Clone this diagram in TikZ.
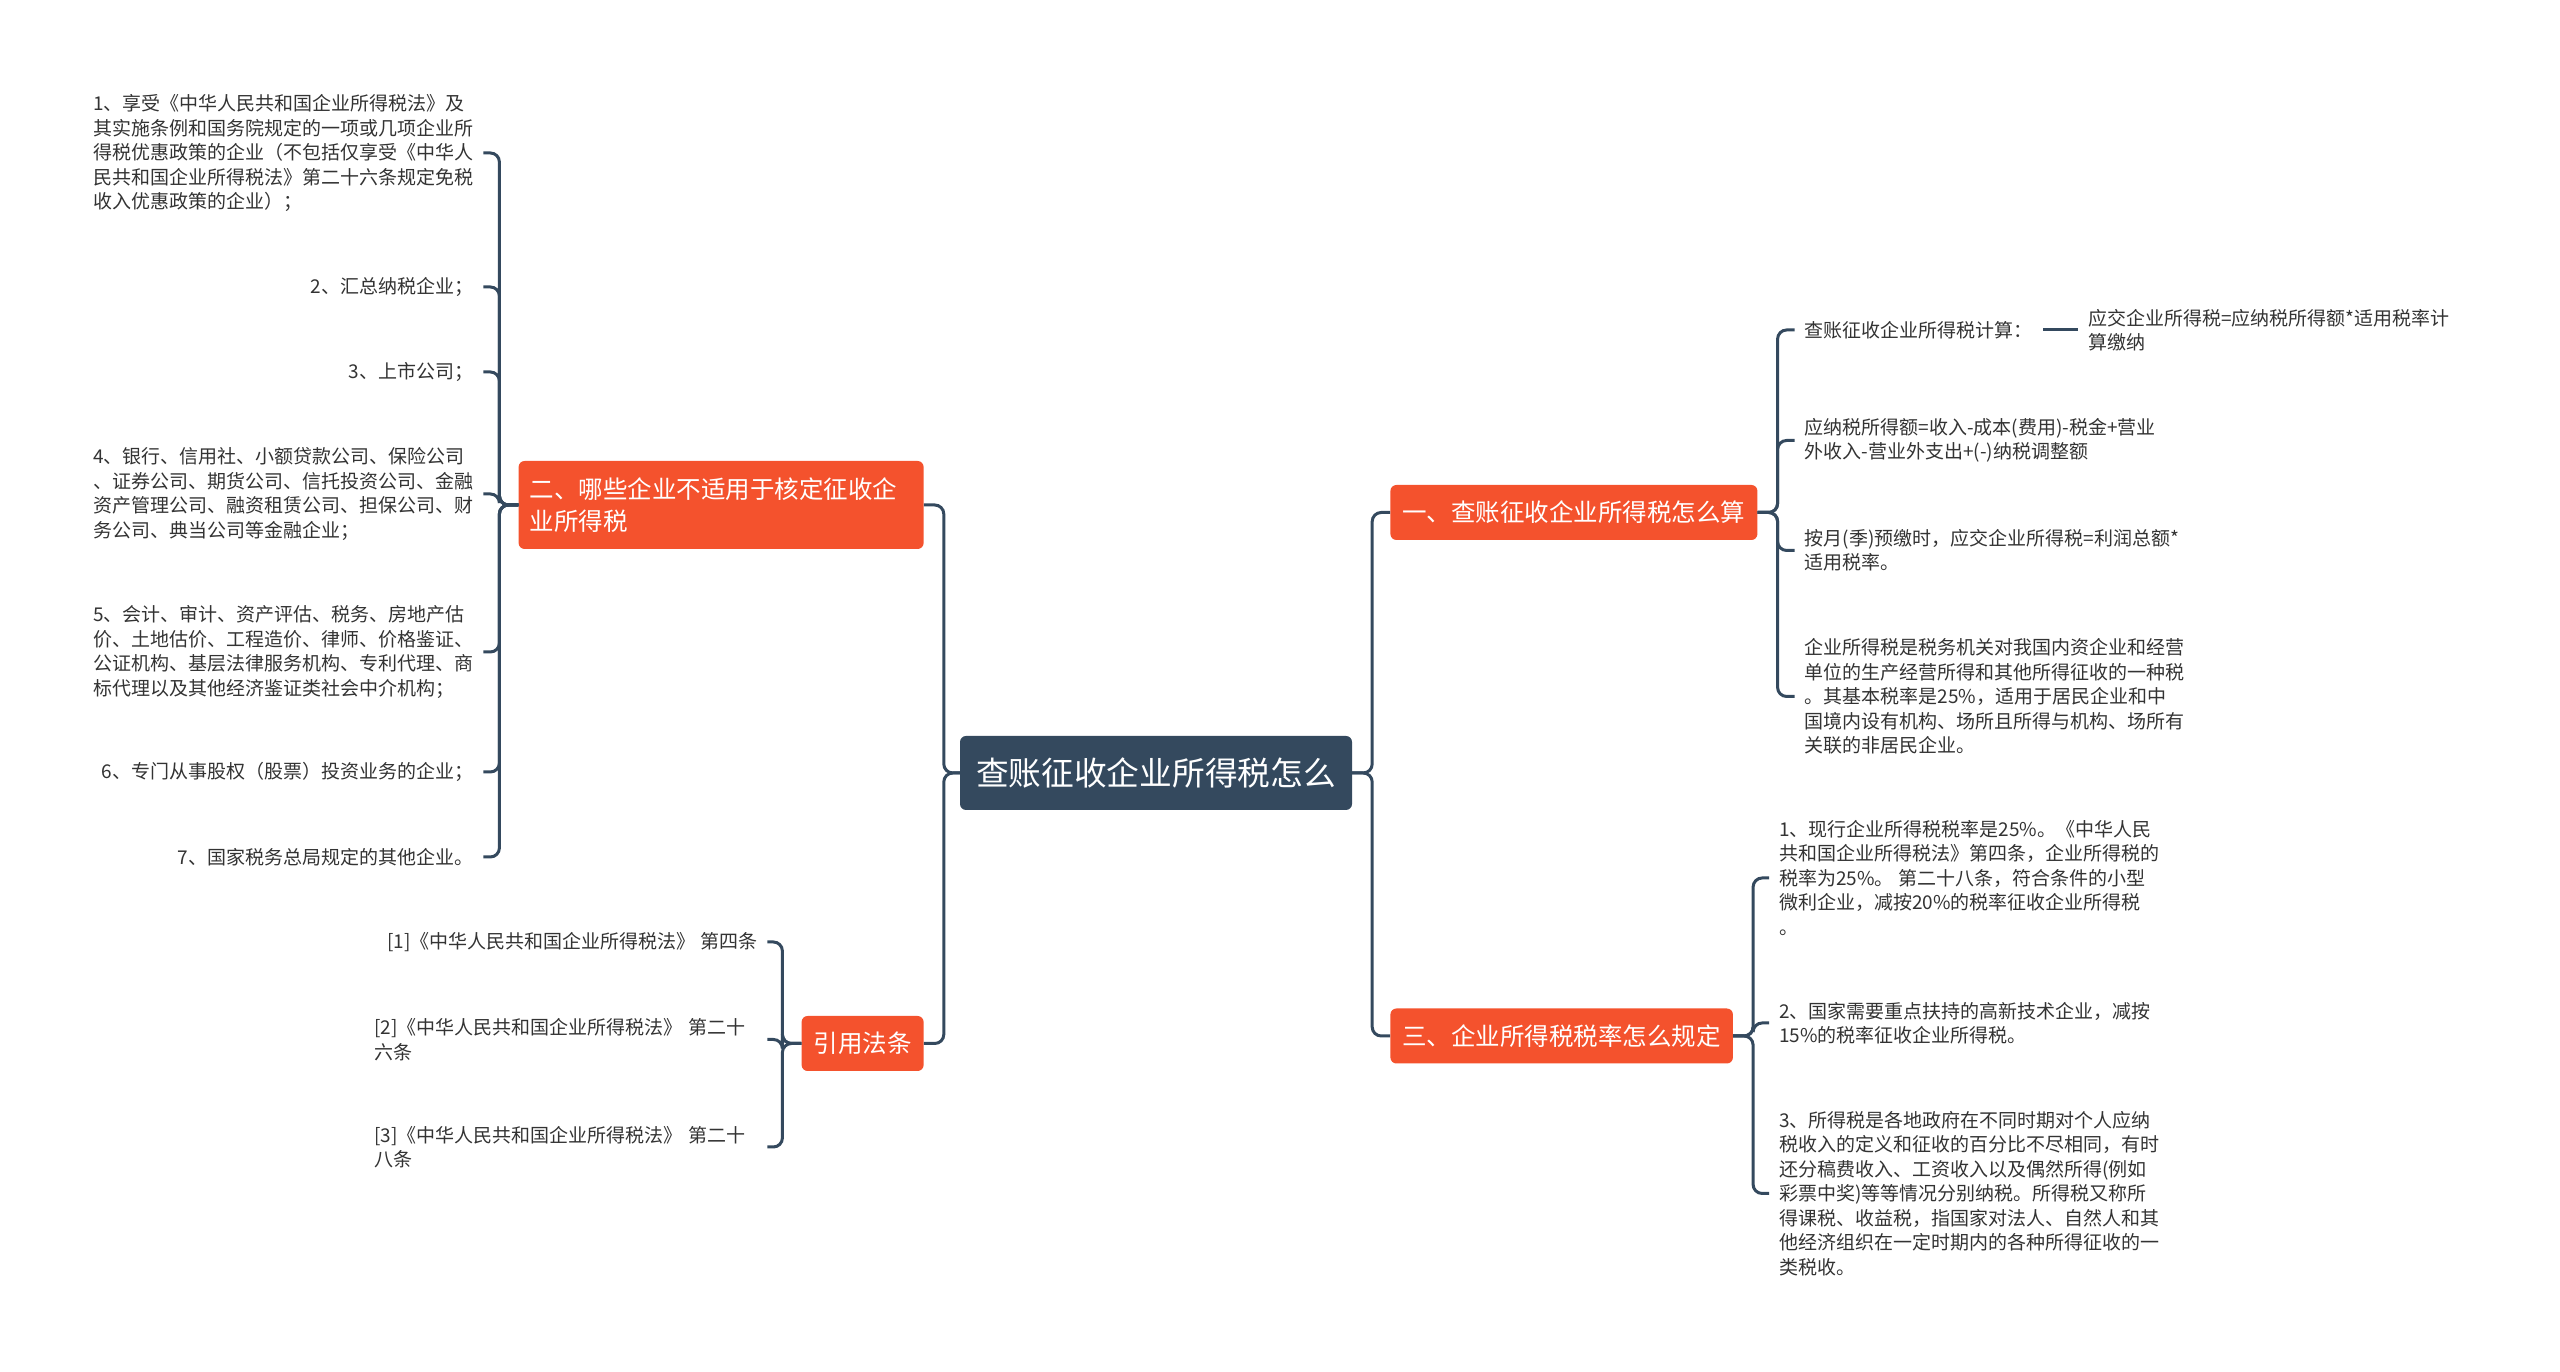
\documentclass[tikz,border=0pt]{standalone}
\usepackage{fontspec}
\setmainfont{Noto Sans CJK SC}
\usetikzlibrary{positioning}

\definecolor{rootslate}{HTML}{34495E}
\definecolor{branchred}{HTML}{F4522D}
\definecolor{leaftext}{HTML}{333333}

\begin{document}
\begin{tikzpicture}[
    x=1pt, y=1pt,
    rootbox/.style={rectangle, rounded corners=6pt, fill=rootslate, text=white, minimum width=392pt, minimum height=74pt, inner xsep=16pt, font=\fontsize{32.7}{38}\selectfont},
    branchbox/.style={rectangle, rounded corners=6pt, fill=branchred, text=white, minimum height=55pt, inner xsep=12pt, font=\fontsize{24.5}{32}\selectfont},
    leaf/.style={align=left, text=leaftext, inner xsep=10pt, inner ysep=2pt, font=\fontsize{19}{24.5}\selectfont},
    link/.style={draw=rootslate, line width=3pt, rounded corners=9pt}
]
    \useasboundingbox (0,0) rectangle (2560,1372);

    \node[rootbox] (root) at (1156,599) {查账征收企业所得税怎么};

    % main branches
    \node[branchbox, right=38pt of root, yshift=260.5pt] (calc) {一、查账征收企业所得税怎么算};
    \node[branchbox, right=38pt of root, yshift=-263pt] (rate) {三、企业所得税税率怎么规定};
    \node[branchbox, left=36pt of root, yshift=268pt, text width=383pt, align=left, minimum height=88pt, inner xsep=11pt] (excl) {二、哪些企业不适用于核定征收企\\业所得税};
    \node[branchbox, left=36pt of root, yshift=-270.5pt] (laws) {引用法条};

    % 一、
    \node[leaf, right=37pt of calc, yshift=182.5pt] (calc1) {查账征收企业所得税计算：};
    \node[leaf, right=35pt of calc1] (calc1a) {应交企业所得税=应纳税所得额*适用税率计\\算缴纳};
    \node[leaf, right=37pt of calc, yshift=72pt] (calc2) {应纳税所得额=收入-成本(费用)-税金+营业\\外收入-营业外支出+(-)纳税调整额};
    \node[leaf, right=37pt of calc, yshift=-38pt] (calc3) {按月(季)预缴时，应交企业所得税=利润总额*\\适用税率。};
    \node[leaf, right=37pt of calc, yshift=-184pt] (calc4) {企业所得税是税务机关对我国内资企业和经营\\单位的生产经营所得和其他所得征收的一种税\\。其基本税率是25\%，适用于居民企业和中\\国境内设有机构、场所且所得与机构、场所有\\关联的非居民企业。};

    % 三、
    \node[leaf, right=36pt of rate, yshift=158pt] (rate1) {1、现行企业所得税税率是25\%。《中华人民\\共和国企业所得税法》第四条，企业所得税的\\税率为25\%。 第二十八条，符合条件的小型\\微利企业，减按20\%的税率征收企业所得税\\。};
    \node[leaf, right=36pt of rate, yshift=13pt] (rate2) {2、国家需要重点扶持的高新技术企业，减按\\15\%的税率征收企业所得税。};
    \node[leaf, right=36pt of rate, yshift=-157.5pt] (rate3) {3、所得税是各地政府在不同时期对个人应纳\\税收入的定义和征收的百分比不尽相同，有时\\还分稿费收入、工资收入以及偶然所得(例如\\彩票中奖)等等情况分别纳税。所得税又称所\\得课税、收益税，指国家对法人、自然人和其\\他经济组织在一定时期内的各种所得征收的一\\类税收。};

    % 二、
    \node[leaf, left=35pt of excl, yshift=352pt] (excl1) {1、享受《中华人民共和国企业所得税法》及\\其实施条例和国务院规定的一项或几项企业所\\得税优惠政策的企业（不包括仅享受《中华人\\民共和国企业所得税法》第二十六条规定免税\\收入优惠政策的企业）；};
    \node[leaf, left=35pt of excl, yshift=218pt] (excl2) {2、汇总纳税企业；};
    \node[leaf, left=35pt of excl, yshift=133pt] (excl3) {3、上市公司；};
    \node[leaf, left=35pt of excl, yshift=11pt] (excl4) {4、银行、信用社、小额贷款公司、保险公司\\、证券公司、期货公司、信托投资公司、金融\\资产管理公司、融资租赁公司、担保公司、财\\务公司、典当公司等金融企业；};
    \node[leaf, left=35pt of excl, yshift=-147pt] (excl5) {5、会计、审计、资产评估、税务、房地产估\\价、土地估价、工程造价、律师、价格鉴证、\\公证机构、基层法律服务机构、专利代理、商\\标代理以及其他经济鉴证类社会中介机构；};
    \node[leaf, left=35pt of excl, yshift=-267pt] (excl6) {6、专门从事股权（股票）投资业务的企业；};
    \node[leaf, left=35pt of excl, yshift=-352pt] (excl7) {7、国家税务总局规定的其他企业。};

    % 引用法条
    \node[leaf, left=34pt of laws, yshift=101.5pt] (law1) {[1]《中华人民共和国企业所得税法》 第四条};
    \node[leaf, left=34pt of laws, yshift=4pt, text width=383pt] (law2) {[2]《中华人民共和国企业所得税法》 第二十\\六条};
    \node[leaf, left=34pt of laws, yshift=-103.5pt, text width=383pt] (law3) {[3]《中华人民共和国企业所得税法》 第二十\\八条};

    % connectors
    \foreach \b in {calc,rate}
        \draw[link] (root.east) -- ++(20,0) |- (\b.west);
    \foreach \b in {excl,laws}
        \draw[link] (root.west) -- ++(-16,0) |- (\b.east);
    \foreach \c in {calc1,calc2,calc3,calc4}
        \draw[link] (calc.east) -- ++(20,0) |- (\c.west);
    \draw[link] (calc1.east) -- (calc1a.west);
    \foreach \c in {rate1,rate2,rate3}
        \draw[link] (rate.east) -- ++(20,0) |- (\c.west);
    \foreach \c in {excl1,excl2,excl3,excl4,excl5,excl6,excl7}
        \draw[link] (excl.west) -- ++(-19,0) |- (\c.east);
    \foreach \c in {law1,law2,law3}
        \draw[link] (laws.west) -- ++(-19,0) |- (\c.east);
\end{tikzpicture}
\end{document}
